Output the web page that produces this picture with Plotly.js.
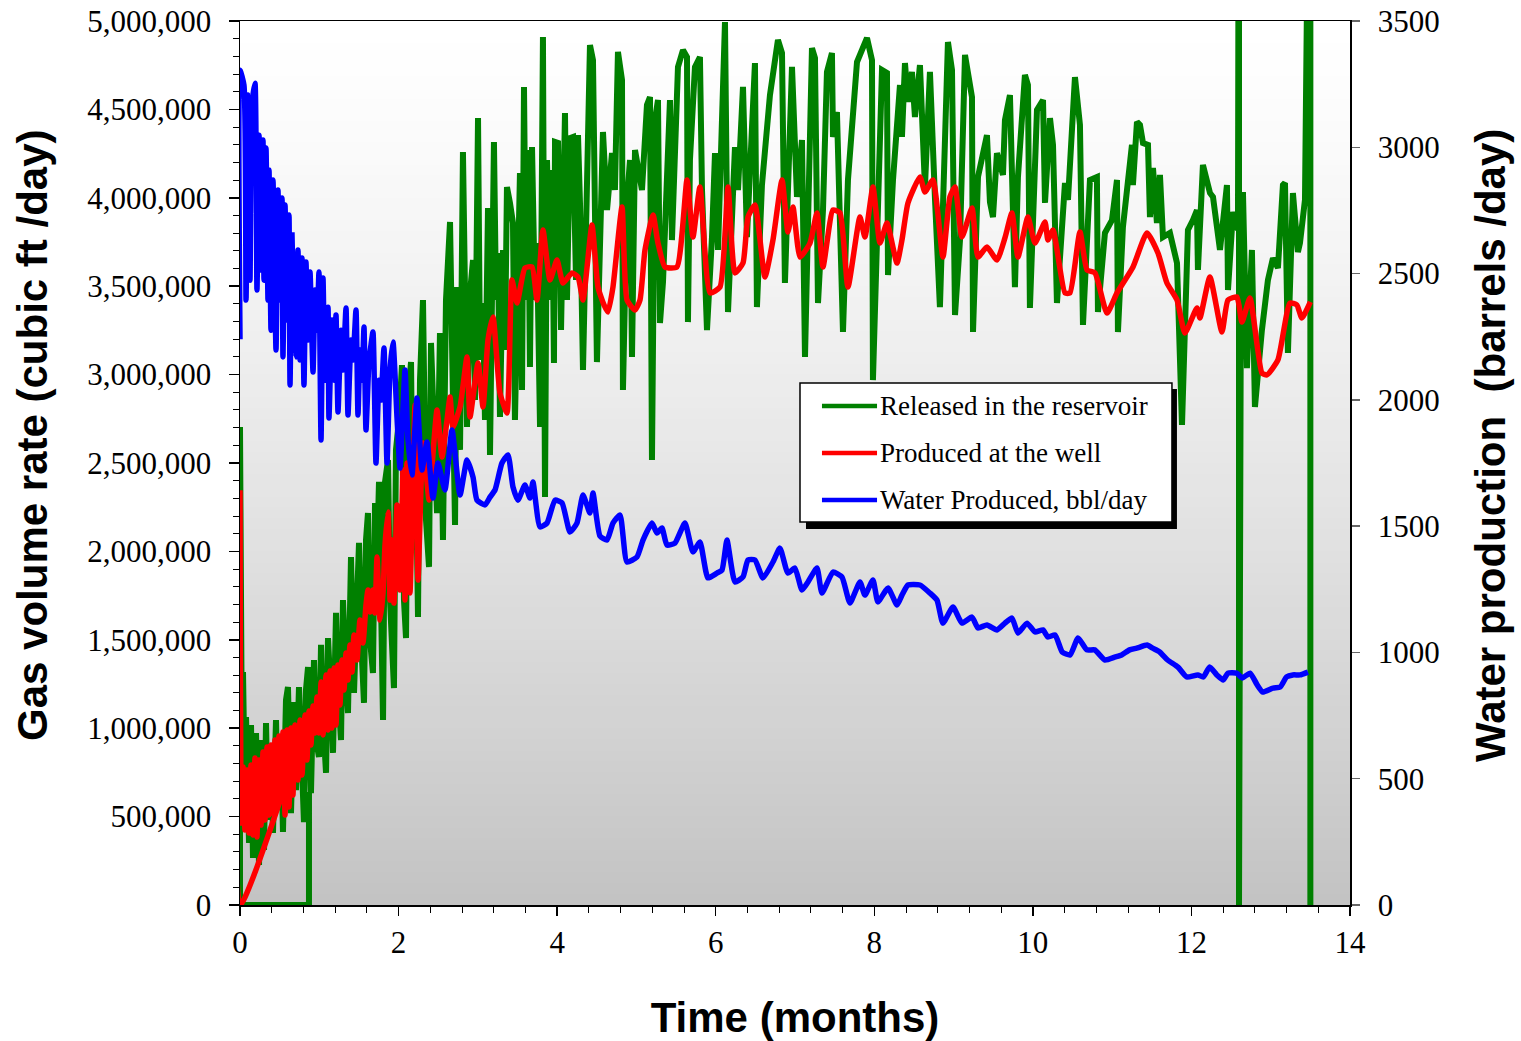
<!DOCTYPE html>
<html><head><meta charset="utf-8">
<script src="https://cdn.plot.ly/plotly-3.0.1.min.js"></script>
<style>html,body{margin:0;padding:0;background:#fff;}#chart{width:1521px;height:1041px;}</style>
</head><body><div id="chart"></div>
<script>
// Time in months
const releasedT = [0.87,0.87,0,0,0.025,0.038,0.063,0.076,0.114,0.139,0.164,0.202,0.24,0.265,0.303,0.328,0.353,0.391,0.416,0.454,0.479,0.517,0.542,0.58,0.605,0.643,0.681,0.706,0.744,0.782,0.807,0.832,0.858,0.895,0.933,0.959,0.996,1.022,1.047,1.085,1.11,1.148,1.173,1.211,1.236,1.274,1.299,1.337,1.362,1.40,1.425,1.438,1.476,1.501,1.539,1.564,1.589,1.614,1.64,1.677,1.703,1.728,1.753,1.778,1.804,1.829,1.867,1.892,1.917,1.942,1.967,2.005,2.043,2.068,2.094,2.119,2.157,2.182,2.207,2.245,2.27,2.308,2.346,2.384,2.409,2.447,2.485,2.522,2.56,2.598,2.649,2.686,2.712,2.737,2.775,2.812,2.838,2.863,2.901,2.939,2.964,3.002,3.027,3.065,3.09,3.128,3.153,3.203,3.229,3.254,3.279,3.317,3.342,3.367,3.405,3.443,3.468,3.531,3.557,3.582,3.607,3.632,3.657,3.683,3.72,3.746,3.784,3.821,3.847,3.872,3.91,3.935,3.96,3.973,4.011,4.049,4.099,4.124,4.162,4.2,4.238,4.263,4.288,4.326,4.414,4.452,4.502,4.578,4.629,4.692,4.729,4.767,4.818,4.83,4.881,4.919,4.944,4.982,5.07,5.133,5.171,5.196,5.234,5.272,5.297,5.335,5.423,5.448,5.524,5.587,5.638,5.65,5.675,5.738,5.801,5.827,5.89,5.953,5.991,6.029,6.117,6.155,6.243,6.281,6.344,6.394,6.495,6.52,6.583,6.684,6.785,6.836,6.873,6.962,7.025,7.088,7.126,7.214,7.252,7.29,7.353,7.403,7.466,7.479,7.529,7.605,7.668,7.782,7.908,7.971,7.983,8.097,8.16,8.173,8.236,8.324,8.349,8.387,8.425,8.475,8.513,8.576,8.639,8.702,8.765,8.828,8.929,8.98,9.018,9.081,9.144,9.232,9.245,9.308,9.421,9.459,9.497,9.547,9.623,9.648,9.711,9.774,9.812,9.9,9.938,9.963,10.052,10.128,10.153,10.216,10.254,10.304,10.405,10.443,10.531,10.594,10.632,10.72,10.808,10.821,10.909,10.998,11.061,11.073,11.136,11.25,11.262,11.313,11.351,11.389,11.452,11.477,11.515,11.565,11.603,11.641,11.729,11.818,11.881,11.956,12.019,12.07,12.082,12.145,12.234,12.272,12.36,12.448,12.461,12.524,12.587,12.6,12.6,12.625,12.65,12.7,12.763,12.801,12.889,12.965,13.028,13.091,13.154,13.18,13.217,13.28,13.343,13.369,13.432,13.5,13.5,13.5];
// Gas released in the reservoir, cubic ft/day
const releasedGas = [639000,0,0,2704000,820000,1318000,594000,1063000,351000,1018000,266000,973000,226000,933000,311000,1029000,481000,905000,407000,1046000,537000,933000,413000,1160000,1233000,520000,1148000,650000,1233000,707000,469000,1216000,1346000,633000,1386000,933000,837000,1471000,1046000,747000,1510000,1160000,860000,1652000,1216000,933000,1725000,1273000,1086000,1968000,1442000,1199000,1725000,2048000,1386000,1143000,2064000,2217000,1499000,1312000,2274000,1951000,2393000,1669000,1046000,2393000,2517000,1725000,1499000,1227000,2574000,2743000,3054000,1725000,1510000,2856000,3071000,2008000,2856000,1629000,2969000,3422000,2178000,1912000,3179000,2574000,2217000,3235000,2064000,3422000,3863000,2856000,2149000,3495000,2574000,4259000,3139000,2704000,3462000,3648000,2856000,4451000,3083000,3405000,2743000,3942000,2545000,4316000,3422000,3688000,2760000,3705000,3139000,4061000,3971000,3857000,2743000,4140000,2913000,4627000,3422000,4270000,3043000,4287000,3422000,3744000,2704000,4910000,2308000,4214000,3422000,4157000,3066000,4316000,4310000,3252000,4480000,3422000,4338000,4344000,3535000,4355000,3971000,3026000,4864000,4779000,3071000,4372000,3931000,4253000,4044000,4825000,4666000,2913000,3988000,4214000,3100000,4270000,4044000,4525000,4570000,2517000,4440000,4553000,3292000,3524000,4553000,3761000,4740000,4836000,4796000,3297000,4214000,4740000,4796000,4044000,3252000,3778000,4253000,3705000,4994000,3354000,4287000,4044000,4627000,3778000,4762000,3382000,4072000,4581000,4893000,4819000,3518000,4740000,4005000,4327000,3100000,4847000,4791000,3405000,3931000,4712000,4819000,4344000,4485000,3241000,4101000,4768000,4904000,4779000,2969000,4723000,4706000,3563000,4101000,4638000,4344000,4762000,4542000,4712000,4457000,4751000,4061000,4712000,3999000,3382000,4881000,4723000,3337000,3761000,4808000,4570000,3241000,4118000,4355000,3976000,3891000,4253000,4129000,4440000,4581000,3495000,4118000,4695000,4638000,3377000,4497000,4553000,3971000,4451000,4299000,3405000,4084000,3988000,4683000,4412000,3281000,4101000,4118000,3354000,3801000,3874000,4101000,3241000,3835000,4299000,4072000,4429000,4412000,4310000,4299000,3891000,4169000,3857000,4129000,3778000,3801000,3631000,2715000,3818000,3874000,3931000,3592000,4186000,4027000,4005000,3705000,4072000,3478000,3920000,3818000,7000000,0,3648000,4033000,3037000,3705000,2817000,3252000,3535000,3659000,3603000,4072000,4084000,3122000,4027000,3693000,3744000,3988000,7000000,0,3122000];

const producedT = [0.656,0,0,0.013,0.038,0.063,0.088,0.114,0.139,0.164,0.189,0.214,0.24,0.265,0.29,0.315,0.341,0.366,0.391,0.416,0.441,0.467,0.492,0.517,0.542,0.568,0.593,0.618,0.643,0.668,0.694,0.731,0.757,0.782,0.82,0.845,0.87,0.895,0.921,0.946,0.971,0.996,1.022,1.047,1.085,1.11,1.135,1.16,1.186,1.211,1.236,1.261,1.286,1.312,1.337,1.362,1.387,1.413,1.438,1.476,1.513,1.551,1.589,1.614,1.64,1.677,1.703,1.728,1.766,1.804,1.829,1.867,1.892,1.917,1.942,1.98,2.018,2.056,2.081,2.106,2.144,2.207,2.245,2.308,2.384,2.421,2.485,2.548,2.611,2.649,2.686,2.775,2.863,2.901,3.002,3.065,3.128,3.191,3.279,3.367,3.43,3.494,3.594,3.683,3.746,3.821,3.91,3.998,4.074,4.187,4.263,4.326,4.439,4.515,4.591,4.641,4.704,4.818,4.881,4.982,5.045,5.108,5.209,5.272,5.36,5.511,5.638,5.713,5.801,5.928,6.054,6.155,6.243,6.344,6.407,6.495,6.621,6.722,6.836,6.911,6.974,7.063,7.189,7.277,7.353,7.479,7.567,7.668,7.819,7.882,7.983,8.072,8.16,8.286,8.349,8.425,8.576,8.639,8.74,8.866,8.954,9.018,9.106,9.232,9.308,9.421,9.547,9.648,9.736,9.812,9.938,10.027,10.153,10.19,10.254,10.405,10.468,10.594,10.683,10.783,10.935,11.061,11.263,11.439,11.578,11.691,11.818,11.918,12.07,12.107,12.233,12.385,12.461,12.574,12.637,12.738,12.889,12.952,13.091,13.242,13.33,13.393,13.5];
// Gas produced at the well, cubic ft/day
const producedGas = [792000,0,2330000,464000,781000,424000,764000,407000,792000,396000,831000,385000,820000,452000,865000,481000,894000,509000,905000,520000,933000,566000,956000,594000,978000,509000,990000,554000,1001000,622000,1018000,707000,1046000,735000,1075000,820000,1097000,905000,1126000,973000,1176000,973000,1261000,962000,1301000,990000,1324000,1001000,1340000,1018000,1357000,1131000,1386000,1216000,1425000,1273000,1471000,1318000,1527000,1386000,1612000,1482000,1697000,1782000,1657000,1782000,1652000,1968000,1612000,1765000,2036000,2223000,1725000,2064000,1708000,2262000,1782000,2460000,1725000,2500000,1765000,2828000,1838000,2613000,2291000,2477000,2800000,2534000,2743000,2873000,2704000,2817000,3100000,2760000,3066000,2817000,3196000,3326000,2896000,2783000,3535000,3405000,3603000,3609000,3422000,3818000,3535000,3648000,3518000,3575000,3552000,3422000,3846000,3495000,3394000,3354000,3495000,3948000,3422000,3365000,3422000,3705000,3903000,3744000,3609000,3609000,4101000,3778000,4061000,3462000,3495000,4061000,3575000,3631000,3891000,3959000,3552000,3761000,4101000,3807000,3948000,3665000,3744000,3914000,3609000,3931000,3914000,3495000,3891000,3778000,4061000,3744000,3857000,3631000,3761000,3971000,4118000,4033000,4101000,3665000,4005000,4061000,3778000,3942000,3665000,3722000,3648000,3773000,3914000,3665000,3891000,3744000,3863000,3761000,3818000,3462000,3462000,3807000,3592000,3575000,3348000,3462000,3609000,3801000,3688000,3518000,3422000,3235000,3377000,3320000,3552000,3241000,3422000,3439000,3297000,3433000,3009000,2998000,3083000,3405000,3394000,3320000,3411000];

const waterT = [0,0,0.05,0.076,0.10,0.126,0.151,0.189,0.214,0.24,0.265,0.29,0.303,0.328,0.353,0.366,0.391,0.416,0.454,0.479,0.504,0.53,0.542,0.568,0.593,0.618,0.631,0.656,0.681,0.706,0.731,0.757,0.782,0.807,0.832,0.858,0.883,0.921,0.946,0.971,0.996,1.022,1.047,1.072,1.11,1.122,1.16,1.186,1.211,1.236,1.274,1.299,1.337,1.362,1.40,1.425,1.463,1.488,1.513,1.539,1.564,1.589,1.627,1.652,1.677,1.715,1.753,1.778,1.816,1.854,1.892,1.93,1.98,2.018,2.081,2.119,2.169,2.232,2.295,2.358,2.434,2.497,2.585,2.674,2.775,2.863,2.939,2.989,3.09,3.153,3.216,3.304,3.38,3.443,3.506,3.594,3.657,3.695,3.783,3.872,3.973,4.061,4.162,4.25,4.326,4.414,4.452,4.54,4.629,4.704,4.793,4.881,5.007,5.083,5.196,5.259,5.322,5.385,5.486,5.612,5.713,5.801,5.902,6.016,6.079,6.142,6.243,6.344,6.407,6.495,6.596,6.722,6.81,6.911,6.999,7.088,7.164,7.277,7.34,7.479,7.592,7.693,7.819,7.882,7.983,8.046,8.173,8.286,8.349,8.425,8.576,8.702,8.791,8.866,8.993,9.106,9.232,9.308,9.421,9.547,9.648,9.736,9.812,9.926,10.027,10.128,10.19,10.28,10.37,10.47,10.57,10.68,10.78,10.91,11.04,11.12,11.22,11.31,11.44,11.51,11.60,11.70,11.83,11.94,12.08,12.15,12.23,12.32,12.40,12.46,12.57,12.64,12.74,12.83,12.90,13.03,13.12,13.20,13.28,13.37,13.47];
// Water produced, bbl/day
const waterBbl = [2240,3305,3246,2395,3207,2474,3167,3254,2435,3048,2514,3029,2474,2997,2395,2910,2276,2870,2197,2831,2395,2799,2170,2771,2316,2732,2059,2653,2276,2170,2593,2158,2562,2059,2546,2237,2506,2110,2435,2276,2506,1841,2482,2078,2367,1928,2316,2078,2336,1952,2276,2118,2364,1940,2237,2158,2356,1940,2197,2078,2288,1881,2158,2217,2269,1750,2078,1999,2205,1750,2118,2229,1932,1730,2118,1841,1702,2007,1722,1833,1611,1750,1643,1881,1623,1762,1694,1603,1584,1615,1643,1750,1782,1655,1603,1663,1611,1675,1497,1512,1603,1592,1477,1512,1623,1552,1631,1461,1445,1512,1544,1358,1378,1445,1512,1473,1493,1425,1433,1512,1398,1437,1295,1314,1326,1445,1279,1299,1366,1366,1295,1358,1413,1314,1334,1247,1279,1334,1235,1318,1299,1196,1279,1227,1287,1200,1255,1188,1227,1267,1267,1235,1207,1116,1180,1116,1140,1097,1109,1089,1116,1136,1077,1116,1081,1089,1061,1069,1002,990,1057,1010,1010,970,982,990,1010,1017,1029,1017,1002,970,942,903,911,903,942,911,891,918,918,899,918,871,843,859,863,903,911,911,922];

const seriesNames = ["Released in the reservoir", "Produced at the well", "Water Produced, bbl/day"];
const seriesColors = ["#008000", "#ff0000", "#0000ff"];
const titleX = "Time (months)";
const titleY = "Gas volume rate (cubic ft /day)";
const titleY2 = "Water production\u00a0\u00a0(barrels /day)";

const serif = "Liberation Serif, Times New Roman, serif";
const sans = "Liberation Sans, Arial, sans-serif";
const titleFont = {family: sans, size: 42, weight: 'bold', color: '#000'};

const traces = [
  {x: releasedT, y: releasedGas, type: 'scatter', mode: 'lines', name: seriesNames[0], yaxis: 'y',
   line: {color: seriesColors[0], width: 6}},
  {x: producedT, y: producedGas, type: 'scatter', mode: 'lines', name: seriesNames[1], yaxis: 'y',
   line: {color: seriesColors[1], width: 5.5, shape: 'spline', smoothing: 0.5}},
  {x: waterT, y: waterBbl, type: 'scatter', mode: 'lines', name: seriesNames[2], yaxis: 'y2',
   line: {color: seriesColors[2], width: 5.5, shape: 'spline', smoothing: 0.5}}
];

// background gradient (white at top to silver at bottom), overlapping bands (no seams)
const shapes = [];
const nBands = 80;
for (let i = 0; i < nBands; i++) {
  const f = (i + 0.5) / nBands; // fraction from top
  const c = Math.round(255 - 60 * Math.pow(f, 1.3));
  shapes.push({type: 'rect', xref: 'paper', yref: 'paper', x0: 0, x1: 1,
    y0: 0, y1: 1 - i / nBands, layer: 'below',
    fillcolor: `rgb(${c},${c},${c})`, line: {width: 0}});
}
// legend box with shadow
shapes.push({type: 'rect', xref: 'paper', yref: 'paper', x0: 0.5099, x1: 0.8441, y0: 0.4253, y1: 0.5837,
  fillcolor: '#000', line: {width: 0}, layer: 'above'});
shapes.push({type: 'rect', xref: 'paper', yref: 'paper', x0: 0.5045, x1: 0.8396, y0: 0.4333, y1: 0.5905,
  fillcolor: '#fff', line: {color: '#000', width: 1.5}, layer: 'above'});
const legendY = [0.5645, 0.5113, 0.4581];
const annotations = [];
for (let i = 0; i < 3; i++) {
  shapes.push({type: 'line', xref: 'paper', yref: 'paper', x0: 0.5243, x1: 0.5739, y0: legendY[i], y1: legendY[i],
    line: {color: seriesColors[i], width: 4.5}, layer: 'above'});
  annotations.push({xref: 'paper', yref: 'paper', x: 0.5752, y: legendY[i], xanchor: 'left', yanchor: 'middle',
    text: seriesNames[i], showarrow: false, font: {family: serif, size: 27, color: '#000'}});
}
// y-axis titles (placed as in the original, slightly above the plot centre)
annotations.push({xref: 'paper', yref: 'paper', x: -0.1865, y: 0.5317, xanchor: 'center', yanchor: 'middle',
  textangle: -90, text: titleY, showarrow: false, font: titleFont});
annotations.push({xref: 'paper', yref: 'paper', x: 1.127, y: 0.5204, xanchor: 'center', yanchor: 'middle',
  textangle: -90, text: titleY2, showarrow: false, font: titleFont});

const layout = {
  width: 1521, height: 1041,
  margin: {l: 240, r: 171, t: 21, b: 136, pad: 0},
  paper_bgcolor: '#fff', plot_bgcolor: '#fff',
  showlegend: false,
  font: {family: serif, size: 31, color: '#000'},
  xaxis: {
    range: [0, 14], tick0: 0, dtick: 2, ticks: 'outside', ticklen: 9, tickwidth: 1.5, tickcolor: '#000',
    showline: true, linecolor: '#000', linewidth: 1.5, mirror: true, showgrid: false, zeroline: false,
    tickfont: {family: serif, size: 31, color: '#000'},
    minor: {tick0: 0, dtick: 0.4, ticks: 'outside', ticklen: 6, tickwidth: 1, tickcolor: '#000', showgrid: false},
    title: {text: titleX, font: titleFont, standoff: 44}
  },
  yaxis: {
    range: [0, 5000000], tick0: 0, dtick: 500000, tickformat: ',d', ticks: 'outside', ticklen: 10, tickwidth: 1.5,
    tickcolor: '#000', showline: true, linecolor: '#000', linewidth: 1.5, showgrid: false, zeroline: false,
    ticklabelstandoff: 11,
    tickfont: {family: serif, size: 31, color: '#000'},
    minor: {tick0: 0, dtick: 100000, ticks: 'outside', ticklen: 6, tickwidth: 1, tickcolor: '#000', showgrid: false}
  },
  yaxis2: {
    overlaying: 'y', side: 'right', range: [0, 3500], tick0: 0, dtick: 500, ticks: 'outside', ticklen: 8,
    tickwidth: 1.5, tickcolor: '#666', showline: true, linecolor: '#000', linewidth: 1.5, showgrid: false,
    zeroline: false, ticklabelstandoff: 12,
    tickfont: {family: serif, size: 31, color: '#000'}
  },
  yaxis3: {
    overlaying: 'y', side: 'right', anchor: 'x', range: [0, 3500], tick0: 0, dtick: 500, ticks: 'inside', ticklen: 10,
    tickwidth: 1.5, tickcolor: '#666', showticklabels: false, showline: false, showgrid: false, zeroline: false
  },
  shapes: shapes,
  annotations: annotations
};

Plotly.newPlot('chart', traces, layout, {staticPlot: true, displayModeBar: false});
</script>
</body></html>
